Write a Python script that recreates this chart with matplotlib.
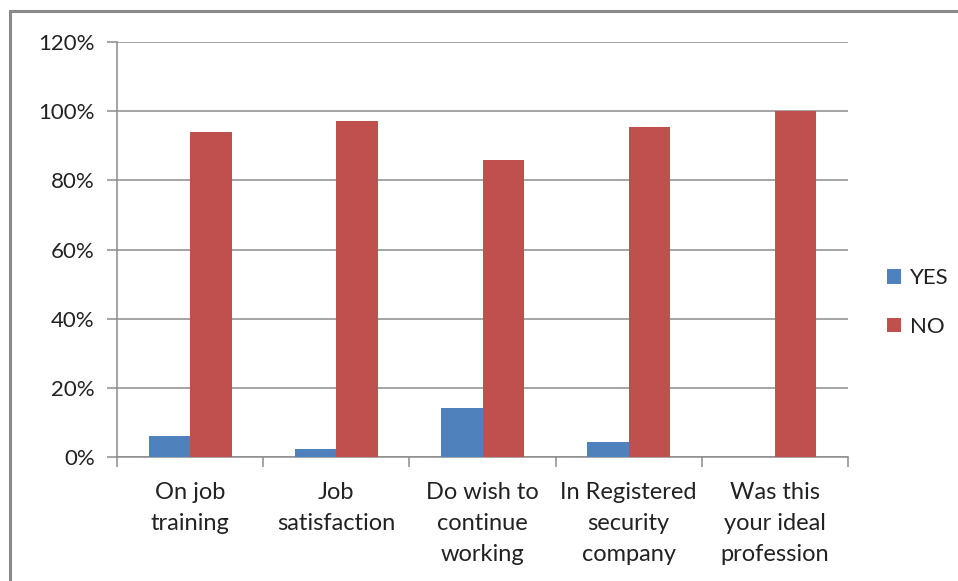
import matplotlib
matplotlib.use("Agg")
import matplotlib.pyplot as plt
from matplotlib.patches import Rectangle
import numpy as np

categories = ["On job\ntraining", "Job\nsatisfaction", "Do wish to\ncontinue\nworking",
              "In Registered\nsecurity\ncompany", "Was this\nyour ideal\nprofession"]
yes_vals = [6.0, 2.3, 14.1, 4.4, 0.0]
no_vals = [94.1, 97.3, 85.9, 95.5, 100.0]
yticks = [0, 20, 40, 60, 80, 100, 120]

plt.rcParams['font.family'] = ['Lato', 'DejaVu Sans']
W, H = 958, 581
fig = plt.figure(figsize=(W/100, H/100), dpi=100)

# outer chart border
fig.patches.append(Rectangle((10/W, -0.1), 1.2, 1 - 11/H + 0.1, transform=fig.transFigure,
                             fill=False, edgecolor='#8a8a8a', linewidth=2.2))

ax = fig.add_axes([117/W, (H-457)/H, (848-117)/W, (457-42)/H])
x = np.arange(len(categories))
bw = 0.284
ax.bar(x - bw/2, yes_vals, width=bw, color='#4F81BD', label='YES', zorder=3)
ax.bar(x + bw/2, no_vals, width=bw, color='#C0504D', label='NO', zorder=3)

ax.set_xlim(-0.5, len(categories) - 0.5)
ax.set_ylim(0, 120)
ax.set_yticks(yticks)
ax.set_yticklabels([f"{v}%" for v in yticks], fontsize=16, color='#222222')
ax.yaxis.grid(True, color='#8c8c8c', linewidth=1.1, zorder=0)
ax.set_axisbelow(True)

ax.set_xticks(np.arange(-0.5, len(categories)), labels=[''] * (len(categories) + 1))
ax.set_xticks(x, labels=categories, minor=True)
ax.tick_params(axis='x', which='major', length=7, color='#8c8c8c', width=1.1)
ax.tick_params(axis='x', which='minor', length=0, pad=18, labelsize=17, labelcolor='#222222')
for lbl in ax.get_xticklabels(minor=True):
    lbl.set_linespacing(1.6)
ax.tick_params(axis='y', length=7, color='#8c8c8c', width=1.1, pad=9)

for s in ['top', 'right']:
    ax.spines[s].set_visible(False)
for s in ['left', 'bottom']:
    ax.spines[s].set_color('#8c8c8c')
    ax.spines[s].set_linewidth(1.1)

leg = fig.legend(loc='upper left', bbox_to_anchor=(867/W, 1 - 248/H), frameon=False,
                 fontsize=16, handlelength=0.65, handleheight=0.65, handletextpad=0.4,
                 labelspacing=1.3, labelcolor='#222222')

fig.savefig("out.png", dpi=100)
